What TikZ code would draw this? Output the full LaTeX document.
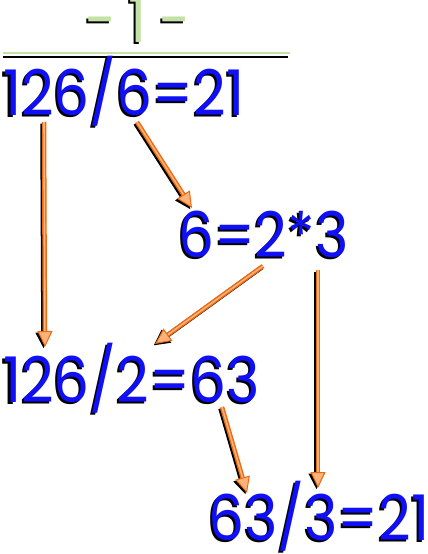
\documentclass[tikz,border=0pt]{standalone}
\usepackage{fontspec}
\setmainfont{Poppins}[FakeStretch=0.9]
\usepackage{tikz}
\usetikzlibrary{arrows.meta}
\definecolor{sumBlue}{HTML}{1010F8}
\definecolor{titleGreen}{HTML}{C4E2A6}
\definecolor{arrDark}{HTML}{EC6A12}
\definecolor{arrLight}{HTML}{FFB27A}
\newcommand{\bigfont}{\fontsize{63}{72}\selectfont}
% text with a black drop shadow down and to the left
\newcommand{\shadowed}[1]{%
  \makebox[0pt][l]{\kern-2pt\raisebox{-2pt}{\color{black}#1}}#1}
\tikzset{
  sumtext/.style ={anchor=base west, inner sep=0pt, outer sep=0pt,
                   font=\bigfont, text=sumBlue},
  titletext/.style={anchor=base, inner sep=0pt, outer sep=0pt,
                   font=\bigfont, text=titleGreen},
  arrmain/.style ={draw=arrDark, line width=4.5pt,
                   -{Triangle[length=16pt,width=15pt,fill=arrLight,line width=1pt]}},
  arrshade/.style={draw=black, line width=4.5pt,
                   -{Triangle[length=16pt,width=15pt,fill=black]}},
  arrshine/.style={draw=arrLight, line width=1.6pt, shorten >=16pt},
}
% shadowed arrow between two named points
\newcommand{\orarrow}[2]{%
  \draw[arrshade] ([xshift=-1.5pt,yshift=-1.5pt]#1) -- ([xshift=-1.5pt,yshift=-1.5pt]#2);
  \draw[arrmain] (#1) -- (#2);
  \draw[arrshine] (#1) -- (#2);
}
\begin{document}
\begin{tikzpicture}[x=1pt,y=-1pt]
\useasboundingbox (0,0) rectangle (428,554);

% --- title and rule ---------------------------------------------------------
\node[titletext] (title) at (138,42) {\shadowed{-\kern12pt1\kern12pt-}};
\draw[black,line width=1.6pt] (3,57) -- (288,57);
\draw[titleGreen,line width=2.6pt] (3,53) -- (290,53);

% --- the four lines ---------------------------------------------------------
\node[sumtext] (quot) at (3,115)   {\shadowed{126/6=21}};
\node[sumtext] (fact) at (178,257) {\shadowed{6=2*3}};
\node[sumtext] (half) at (3,402)   {\shadowed{126/2=63}};
\node[sumtext] (last) at (208,540) {\shadowed{63/3=21}};

% --- arrow ends -------------------------------------------------------------
\coordinate (a1s) at (44,122);  \coordinate (a1e) at (45,347);
\coordinate (a2s) at (137,122); \coordinate (a2e) at (192,208);
\coordinate (a3s) at (263,266); \coordinate (a3e) at (155,344);
\coordinate (a4s) at (318,270); \coordinate (a4e) at (318,488);
\coordinate (a5s) at (222,407); \coordinate (a5e) at (247,493);

\orarrow{a1s}{a1e}
\orarrow{a2s}{a2e}
\orarrow{a3s}{a3e}
\orarrow{a4s}{a4e}
\orarrow{a5s}{a5e}

\end{tikzpicture}
\end{document}
